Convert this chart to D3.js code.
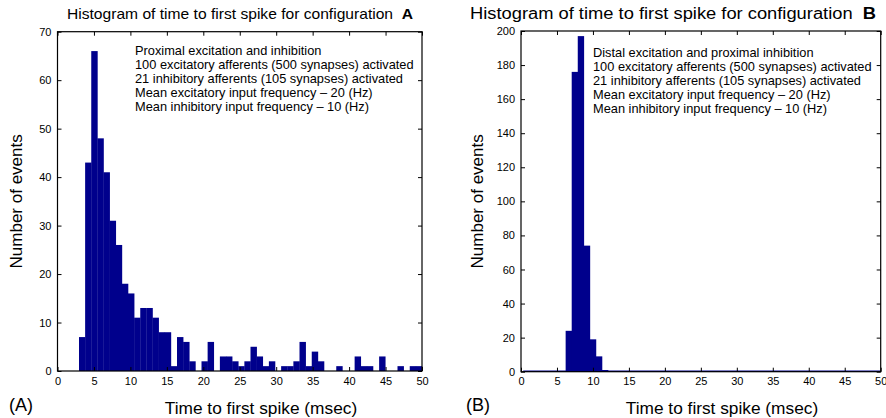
<!DOCTYPE html>
<html>
<head>
<meta charset="utf-8">
<script src="https://cdn.jsdelivr.net/npm/d3@7"></script>
<style>
  body { margin: 0; background: #fff; }
  svg { display: block; font-family: "Liberation Sans", Arial, sans-serif; }
</style>
</head>
<body>
<div id="viz"></div>
<script>
// histogram counts, equal width bins between lo and hi (msec)
const countsA = [7, 43, 66, 48, 41, 31, 26, 18, 16, 11, 13, 13, 11, 8, 8, 1, 7, 6, 2, 0,
                 2, 6, 0, 3, 3, 2, 1, 2, 5, 3, 1, 2, 0, 1, 1, 2, 6, 1, 4, 2,
                 0, 0, 1, 0, 0, 3, 1, 1, 0, 3, 0, 0, 1, 0, 1, 1]
const rangeA = [2.95, 50]

const countsB = [0, 0, 0, 0, 0, 0, 0, 24, 176, 197, 74, 19, 9, 1, 0, 0, 0, 0, 0, 0,
                 0, 0, 0, 0, 0, 0, 0, 0, 0, 0, 0, 0, 0, 0, 0, 0, 0, 0, 0, 0,
                 0, 0, 0, 0, 0, 0, 0, 0, 0, 0, 0, 0, 0, 0, 0, 0, 0, 0, 0]
const rangeB = [0.31, 50]

const xTicks = [0, 5, 10, 15, 20, 25, 30, 35, 40, 45, 50]
const yTicksA = [0, 10, 20, 30, 40, 50, 60, 70]
const yTicksB = [0, 20, 40, 60, 80, 100, 120, 140, 160, 180, 200]

const notesA = ["Proximal excitation and inhibition",
                "100 excitatory afferents (500 synapses) activated",
                "21 inhibitory afferents (105 synapses) activated",
                "Mean excitatory input frequency \u2013 20 (Hz)",
                "Mean inhibitory input frequency \u2013 10 (Hz)"]
const notesB = ["Distal excitation and proximal inhibition",
                "100 excitatory afferents (500 synapses) activated",
                "21 inhibitory afferents (105 synapses) activated",
                "Mean excitatory input frequency \u2013 20 (Hz)",
                "Mean inhibitory input frequency \u2013 10 (Hz)"]

const width = 886
const height = 418
const barColor = "#00008c"

const svg = d3.select("#viz").append("svg")
    .attr("width", width)
    .attr("height", height)

function panel(opt) {
    const xScale = d3.scaleLinear().domain([0, 50]).range([opt.left, opt.right])
    const yScale = d3.scaleLinear().domain([0, opt.yMax]).range([opt.bottom, opt.top])
    // bin index -> time
    const binScale = d3.scaleLinear().domain([0, opt.counts.length]).range(opt.range)

    const g = svg.append("g")

    if (opt.baseline) {
        g.append("line")
            .attr("x1", xScale(opt.range[0])).attr("x2", xScale(opt.range[1]))
            .attr("y1", yScale(0) - 0.5).attr("y2", yScale(0) - 0.5)
            .attr("stroke", barColor).attr("stroke-width", 1.5)
    }

    g.append("g").selectAll("rect")
        .data(opt.counts.map((c, i) => ({c, i})).filter(d => d.c > 0))
        .join("rect")
        .attr("x", d => xScale(binScale(d.i)))
        .attr("width", d => xScale(binScale(d.i + 1)) - xScale(binScale(d.i)) + 0.3)
        .attr("y", d => yScale(d.c))
        .attr("height", d => yScale(0) - yScale(d.c))
        .attr("fill", barColor)

    // axes with inward ticks, mirrored on top/right
    const xAxis = d3.axisBottom(xScale).tickValues(xTicks).tickSizeInner(-4).tickSizeOuter(0).tickPadding(6)
    const yAxis = d3.axisLeft(yScale).tickValues(opt.yTicks).tickSizeInner(-4).tickSizeOuter(0).tickPadding(6)

    g.append("g").attr("transform", `translate(0,${opt.bottom})`).call(xAxis)
    g.append("g").attr("transform", `translate(${opt.left},0)`).call(yAxis)
    g.append("g").attr("transform", `translate(0,${opt.top})`)
        .call(d3.axisTop(xScale).tickValues(xTicks).tickSizeInner(-4).tickSizeOuter(0).tickFormat(""))
    g.append("g").attr("transform", `translate(${opt.right},0)`)
        .call(d3.axisRight(yScale).tickValues(opt.yTicks).tickSizeInner(-4).tickSizeOuter(0).tickFormat(""))

    g.selectAll(".domain").remove()
    g.selectAll(".tick line").attr("stroke", "#000")
    g.selectAll(".tick text").attr("font-size", 11).attr("font-family", "Liberation Sans, Arial, sans-serif").attr("fill", "#000")

    g.append("rect")
        .attr("x", opt.left).attr("y", opt.top)
        .attr("width", opt.right - opt.left).attr("height", opt.bottom - opt.top)
        .attr("fill", "none").attr("stroke", "#000").attr("stroke-width", 1.2)

    const title = g.append("text")
        .attr("x", opt.titleX).attr("y", 19)
        .attr("font-size", opt.titleSize)
        .attr("textLength", opt.titleLen).attr("lengthAdjust", "spacingAndGlyphs")
    title.append("tspan").text("Histogram of time to first spike for configuration \u00a0")
    title.append("tspan").attr("font-weight", "bold").text(opt.letter)

    g.append("text")
        .attr("x", opt.noteX).attr("y", opt.noteY)
        .attr("font-size", 12.8)
        .selectAll("tspan").data(opt.notes).join("tspan")
        .attr("x", opt.noteX).attr("dy", (d, i) => i === 0 ? 0 : 14)
        .text(d => d)

    g.append("text")
        .attr("transform", `translate(${opt.yLabelX},${(opt.top + opt.bottom) / 2}) rotate(-90)`)
        .attr("text-anchor", "middle").attr("font-size", 17)
        .text("Number of events")

    g.append("text")
        .attr("x", opt.xLabelX).attr("y", 414)
        .attr("text-anchor", "middle").attr("font-size", 17.3)
        .text("Time to first spike (msec)")

    g.append("text")
        .attr("x", opt.tagX).attr("y", 411)
        .attr("font-size", 18)
        .text(`(${opt.letter})`)
}

panel({counts: countsA, range: rangeA, yMax: 70, yTicks: yTicksA,
       left: 57.5, right: 422, top: 31.7, bottom: 371,
       letter: "A", notes: notesA, noteX: 135, noteY: 55,
       titleX: 67, titleLen: 346, titleSize: 15,
       yLabelX: 22, xLabelX: 261, tagX: 9, baseline: false})

panel({counts: countsB, range: rangeB, yMax: 200, yTicks: yTicksB,
       left: 521, right: 880.7, top: 31, bottom: 371.7,
       letter: "B", notes: notesB, noteX: 593, noteY: 57,
       titleX: 470, titleLen: 406, titleSize: 16,
       yLabelX: 483, xLabelX: 722, tagX: 466, baseline: true})
</script>
</body>
</html>
